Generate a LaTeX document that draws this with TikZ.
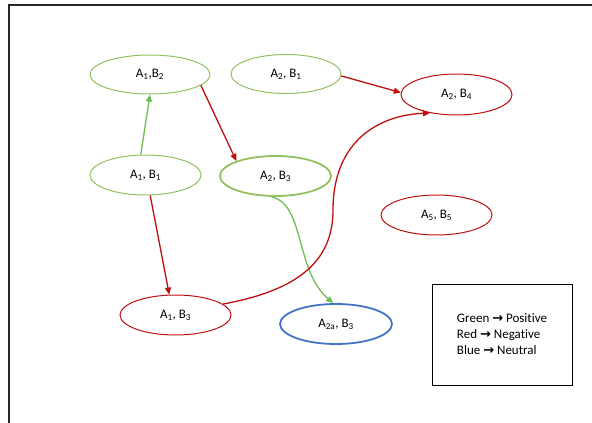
\documentclass[tikz,border=0pt]{standalone}
\usepackage{fontspec}
\setmainfont{Carlito}[Ligatures=NoCommon]
\newfontfamily\arrowfont{DejaVu Sans}
\usepackage{tikz}
\usetikzlibrary{positioning,arrows.meta,shapes.geometric}
\usepackage{xcolor}
\definecolor{posgreen}{RGB}{145,192,95}
\definecolor{posarrow}{RGB}{110,190,80}
\definecolor{negred}{RGB}{190,15,15}
\definecolor{neublue}{RGB}{70,115,200}

\begin{document}
\begin{tikzpicture}[x=1pt, y=-1pt,
    state/.style={ellipse, draw, minimum width=111pt, minimum height=40pt, inner sep=0pt, font=\fontsize{13}{15}\selectfont},
    posnode/.style={state, draw=posgreen, line width=1pt},
    negnode/.style={state, draw=negred, line width=1pt},
    neunode/.style={state, draw=neublue, line width=1.8pt},
    posedge/.style={draw=posarrow, line width=1.3pt, -{Triangle[length=7pt, width=6pt]}},
    negedge/.style={draw=negred, line width=1.3pt, -{Triangle[length=7pt, width=6pt]}},
    legend/.style={rectangle, draw, line width=0.9pt, minimum width=140pt, minimum height=101pt, align=left, font=\fontsize{13}{16}\selectfont}
]
\useasboundingbox (0,0) rectangle (592,423);
\draw[line width=1.5pt, black!85] (592,5) -| (9,423);

\node[posnode, minimum width=120pt, minimum height=39pt] (a1b2) at (150,74.5) {A\textsubscript{1},B\textsubscript{2}};
\node[posnode, minimum width=110pt, minimum height=39pt] (a2b1) at (286,74) {A\textsubscript{2}, B\textsubscript{1}};
\node[posnode] (a1b1) at (145.5,175) {A\textsubscript{1}, B\textsubscript{1}};
\node[posnode, line width=1.8pt] (a2b3) at (275.5,176) {A\textsubscript{2}, B\textsubscript{3}};
\node[negnode, minimum height=41pt] (a2b4) at (456.5,94.5) {A\textsubscript{2}, B\textsubscript{4}};
\node[negnode] (a5b5) at (436.5,215) {A\textsubscript{5}, B\textsubscript{5}};
\node[negnode] (a1b3) at (175.5,315) {A\textsubscript{1}, B\textsubscript{3}};
\node[neunode, minimum width=112pt] (a2ab3) at (336,324) {A\textsubscript{2a}, B\textsubscript{3}};

\node[legend] (key) at (502,334.5) {Green {\arrowfont\bfseries\fontsize{13}{16}\selectfont →} Positive\\
Red {\arrowfont\bfseries\fontsize{13}{16}\selectfont →} Negative\\
Blue {\arrowfont\bfseries\fontsize{13}{16}\selectfont →} Neutral};

% positive links
\draw[posedge] (a1b1.103) -- (a1b2.270);
\draw[posedge] (a2b3.-100) .. controls (305,205) and (295,270) .. (a2ab3.98);

% negative links
\draw[negedge] (a1b2.-12) -- (a2b3.159);
\draw[negedge] (a2b1.-2) -- (a2b4.178);
\draw[negedge] (a1b1.-77) -- (a1b3.107);
\draw[negedge] (a1b3.13) .. controls (300,290) and (333,260) .. (333,210)
    .. controls (333,140) and (380,115) .. (a2b4.215);
\end{tikzpicture}
\end{document}
